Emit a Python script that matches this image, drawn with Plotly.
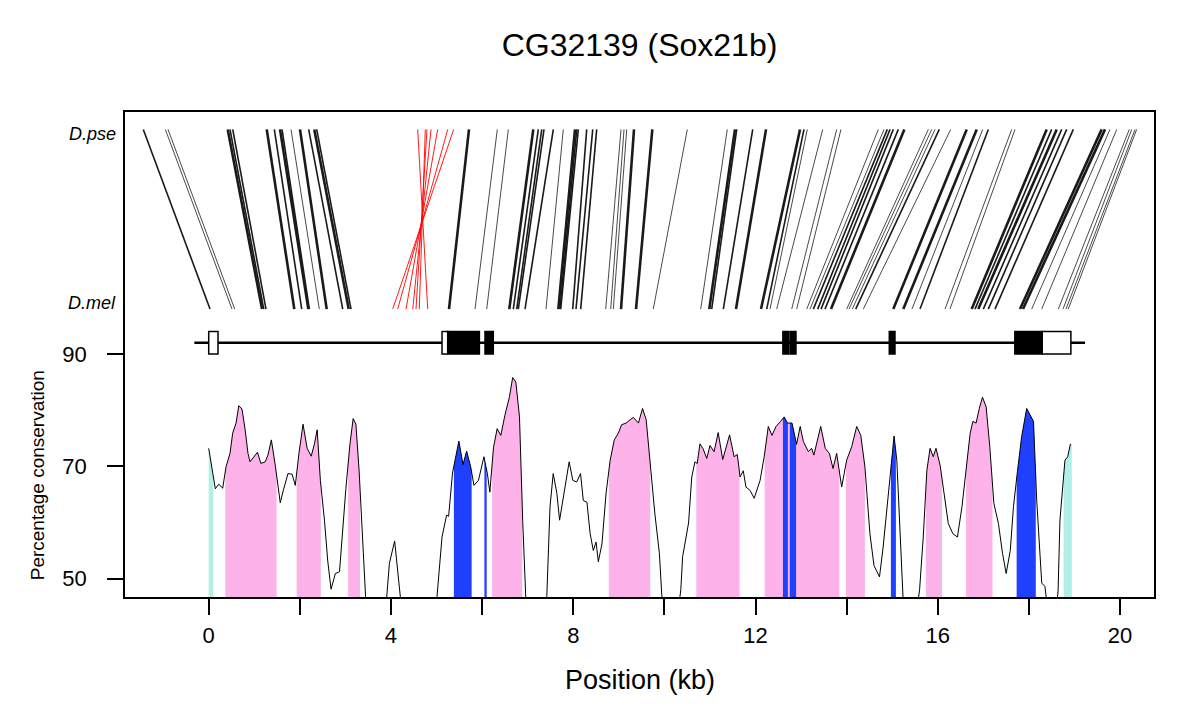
import numpy as np
import plotly.graph_objects as go

# ---------------- data ----------------
# conservation profile (position in kb, percentage conservation)
pos_kb = [0.00, 0.06, 0.145, 0.22, 0.307, 0.38, 0.467, 0.526, 0.60, 0.66, 0.73, 0.80, 0.862, 0.906, 0.98,
          1.07, 1.145, 1.24, 1.30, 1.375, 1.46, 1.57, 1.64, 1.74, 1.83, 1.90, 1.98, 2.07, 2.16, 2.25,
          2.32, 2.38, 2.45, 2.54, 2.61, 2.685, 2.78, 2.87, 3.01, 3.10, 3.17, 3.23, 3.30, 3.38, 3.46,
          3.88, 3.965, 4.08, 4.15, 4.24, 4.98, 5.00, 5.12, 5.22, 5.265, 5.35, 5.41, 5.49, 5.58, 5.66,
          5.75, 5.82, 5.92, 6.04, 6.115, 6.17, 6.25, 6.33, 6.41, 6.50, 6.60, 6.67, 6.74, 6.82, 6.89,
          6.96, 7.02, 7.36, 7.42, 7.49, 7.56, 7.64, 7.70, 7.78, 7.86, 7.91, 7.99, 8.075, 8.16, 8.22,
          8.30, 8.37, 8.44, 8.50, 8.55, 8.63, 8.72, 8.81, 8.90, 8.99, 9.06, 9.16, 9.25, 9.32, 9.43,
          9.52, 9.60, 9.68, 9.79, 9.89, 9.95, 10.0, 10.3, 10.36, 10.4, 10.53, 10.60, 10.67, 10.72, 10.78,
          10.85, 10.93, 11.00, 11.09, 11.18, 11.28, 11.35, 11.43, 11.53, 11.60, 11.66, 11.73, 11.79, 11.88, 11.97,
          12.10, 12.19, 12.28, 12.36, 12.45, 12.55, 12.63, 12.70, 12.80, 12.90, 12.98, 13.05, 13.16, 13.23, 13.28,
          13.43, 13.53, 13.62, 13.70, 13.78, 13.89, 14.00, 14.11, 14.22, 14.31, 14.40, 14.51, 14.60, 14.72, 14.80,
          14.89, 14.97, 15.04, 15.10, 15.17, 15.24, 15.30, 15.53, 15.60, 15.68, 15.76, 15.83, 15.90, 15.96, 16.05,
          16.14, 16.23, 16.33, 16.43, 16.53, 16.62, 16.71, 16.77, 16.84, 16.91, 16.98, 17.06, 17.14, 17.23, 17.33,
          17.42, 17.50, 17.59, 17.66, 17.75, 17.84, 17.95, 18.03, 18.10, 18.17, 18.28, 18.35, 18.42, 18.60, 18.64,
          18.68, 18.79, 18.85, 18.91]
pct_cons = [73.2, 69.9, 66.0, 66.8, 66.1, 69.9, 72.3, 75.9, 77.7, 80.8, 80.2, 76.5, 72.3, 70.8, 71.6,
            72.5, 70.5, 70.8, 72.0, 74.7, 70.2, 63.5, 65.8, 68.7, 68.6, 66.6, 72.3, 77.5, 73.2, 71.8,
            74.0, 76.5, 67.5, 60.4, 53.3, 48.1, 50.9, 51.2, 66.0, 74.0, 78.5, 77.5, 69.3, 55.0, 44.0,
            44.0, 52.7, 56.7, 51.5, 44.0, 44.0, 46.0, 57.4, 61.3, 61.1, 68.8, 71.2, 74.5, 70.3, 72.7,
            69.9, 66.6, 67.5, 71.7, 68.7, 65.4, 73.4, 76.7, 75.5, 79.1, 82.4, 85.8, 85.0, 78.8, 60.4,
            46.2, 44.0, 44.0, 47.0, 62.8, 68.7, 65.2, 60.4, 64.3, 68.1, 70.8, 67.5, 67.2, 68.7, 63.9,
            63.6, 58.0, 55.0, 56.5, 53.0, 56.2, 65.2, 71.1, 74.7, 75.9, 77.4, 77.7, 78.3, 78.7, 77.7,
            80.3, 78.3, 71.1, 61.6, 54.5, 46.0, 44.0, 44.0, 48.0, 53.9, 59.9, 68.1, 70.8, 70.5, 74.0,
            73.1, 71.4, 73.7, 72.6, 76.0, 71.2, 73.2, 75.6, 71.7, 72.1, 68.1, 69.2, 66.3, 65.7, 64.3,
            67.5, 71.7, 77.1, 75.5, 77.1, 78.0, 78.8, 77.7, 77.7, 73.9, 77.1, 74.4, 72.6, 73.2, 72.0,
            77.1, 73.2, 72.3, 69.6, 72.3, 66.3, 71.1, 73.5, 77.1, 75.5, 69.9, 58.0, 52.3, 50.3, 55.6,
            62.8, 69.9, 75.4, 71.1, 59.2, 46.0, 44.0, 44.0, 48.0, 57.4, 69.3, 73.2, 71.7, 73.2, 70.2,
            65.2, 59.8, 58.0, 57.4, 62.8, 69.9, 75.9, 78.0, 77.7, 80.3, 82.3, 80.6, 73.5, 63.4, 59.8,
            54.5, 50.9, 55.0, 62.8, 69.3, 75.3, 80.3, 79.1, 78.0, 64.0, 49.2, 48.6, 44.0, 44.0, 48.0,
            60.4, 71.1, 71.7, 74.0]

# conserved regions (kb)
utr_reg_start = [0.0, 18.76]
utr_reg_end = [0.10, 18.94]
cns_reg_start = [0.365, 1.93, 3.06, 6.22, 8.78, 10.70, 12.20, 12.71, 12.89, 13.985, 15.74, 16.62]
cns_reg_end = [1.49, 2.46, 3.32, 6.88, 9.69, 11.65, 12.60, 12.75, 13.84, 14.40, 16.09, 17.20]
exon_reg_start = [5.38, 6.05, 12.60, 12.75, 14.97, 17.73]
exon_reg_end = [5.77, 6.10, 12.71, 12.89, 15.08, 18.15]

# gene model (kb)
gene_start, gene_end = -0.316, 19.23
utr_start = [0.0, 5.12, 18.29]
utr_end = [0.204, 5.245, 18.92]
cds_start = [5.245, 6.063, 12.60, 12.756, 14.935, 17.69]
cds_end = [5.94, 6.245, 12.72, 12.887, 15.06, 18.29]

# D.mel / D.pse aligned blocks (kb)
mel_kb = [0.029, 0.511, 0.571, 1.170, 1.207, 1.257, 1.878, 2.041, 2.186, 2.208,
          2.427, 2.589, 2.941, 3.072, 3.123, 5.273, 5.844, 6.101, 6.596, 6.684,
          6.759, 6.794, 6.941, 7.402, 7.672, 7.709, 7.724, 7.988, 8.060, 8.163,
          8.712, 8.822, 8.879, 9.048, 9.377, 9.756, 10.797, 10.985, 11.038, 11.293,
          11.571, 12.120, 12.245, 12.318, 12.464, 12.794, 12.903, 13.123, 13.195, 13.268,
          13.364, 13.437, 13.524, 13.656, 14.000, 14.051, 14.123, 14.198, 14.365, 15.023,
          15.243, 15.433, 15.609, 16.158, 16.267, 16.744, 16.816, 16.888, 16.998, 17.108,
          17.255, 17.804, 17.869, 18.060, 18.280, 18.644, 18.747, 18.813, 18.863]
pse_kb = [-1.435, -0.952, -0.893, 0.417, 0.467, 0.527, 1.273, 1.440, 1.565, 1.609,
          1.806, 2.003, 2.194, 2.317, 2.370, 5.712, 6.333, 6.575, 7.123, 7.233,
          7.308, 7.358, 7.562, 7.781, 8.038, 8.076, 8.111, 8.295, 8.427, 8.514,
          9.048, 9.114, 9.173, 9.333, 9.735, 10.503, 11.380, 11.549, 11.587, 11.938,
          12.230, 12.976, 13.063, 13.136, 13.474, 13.781, 13.875, 14.694, 14.819, 14.891,
          14.951, 15.023, 15.133, 15.265, 15.791, 15.866, 15.938, 16.032, 16.283, 16.634,
          16.853, 16.985, 17.108, 17.621, 17.694, 18.389, 18.499, 18.609, 18.718, 18.828,
          18.973, 19.596, 19.669, 19.778, 19.926, 20.202, 20.255, 20.328, 20.364]
align_weight = [2, 1, 1, 3, 2, 2, 3, 2, 3, 2,
                1, 3, 2, 3, 2, 3, 1, 1, 3, 2,
                2, 2, 2, 1, 3, 2, 2, 2, 2, 2,
                1, 1, 1, 3, 3, 1, 1, 3, 2, 2,
                3, 3, 2, 1, 1, 1, 1, 1, 1, 2,
                2, 2, 2, 3, 1, 1, 1, 2, 1, 3,
                3, 1, 2, 1, 1, 3, 2, 3, 2, 2,
                2, 3, 3, 1, 1, 1, 1, 1, 1]
# inverted blocks
inv_mel_kb = [4.038, 4.147, 4.330, 4.477, 4.549, 4.621, 4.806]
inv_pse_kb = [5.376, 5.245, 5.025, 4.878, 4.790, 4.753, 4.586]

x_ticks = [0, 2, 4, 6, 8, 10, 12, 14, 16, 18, 20]
x_tick_labels = ["0", "", "4", "", "8", "", "12", "", "16", "", "20"]
y_ticks = [50, 70, 90]
y_tick_labels = ["50", "70", "90"]

# ---------------- layout constants ----------------
MEL_Y, PSE_Y = 98.0, 130.0
GENE_Y, BOX_H = 92.0, 2.0
Y_MIN, Y_MAX = 46.72, 133.1
X_MIN, X_MAX = -1.837, 20.744
BOTTOM = 30.0
FONT = "Liberation Sans, Arial, Helvetica, sans-serif"

fig = go.Figure()

pos = np.array(pos_kb)
pct = np.array(pct_cons)


def add_regions(starts, ends, color):
    for a, b in zip(starts, ends):
        inside = (pos > a) & (pos < b)
        xs = [a] + list(pos[inside]) + [b]
        ys = list(np.interp(xs, pos, pct))
        xs = xs + [b, a]
        ys = ys + [BOTTOM, BOTTOM]
        fig.add_trace(go.Scatter(x=xs, y=ys, mode="lines", fill="toself",
                                 fillcolor=color, line=dict(width=0),
                                 hoverinfo="skip", showlegend=False))


add_regions(cns_reg_start, cns_reg_end, "#fdb2ea")
add_regions(utr_reg_start, utr_reg_end, "#b0f0e6")
add_regions(exon_reg_start, exon_reg_end, "#2040ff")

# conservation curve
fig.add_trace(go.Scatter(x=pos_kb, y=pct_cons, mode="lines",
                         line=dict(color="black", width=1), showlegend=False,
                         hoverinfo="skip"))

# alignment lines
width_map = {1: 0.8, 2: 1.6, 3: 2.6}
for w in (1, 2, 3):
    xs, ys = [], []
    for m, p, aw in zip(mel_kb, pse_kb, align_weight):
        if aw == w:
            xs += [m, p, None]
            ys += [MEL_Y, PSE_Y, None]
    fig.add_trace(go.Scatter(x=xs, y=ys, mode="lines",
                             line=dict(color="#1a1a1a", width=width_map[w]),
                             showlegend=False, hoverinfo="skip"))
xs, ys = [], []
for m, p in zip(inv_mel_kb, inv_pse_kb):
    xs += [m, p, None]
    ys += [MEL_Y, PSE_Y, None]
fig.add_trace(go.Scatter(x=xs, y=ys, mode="lines",
                         line=dict(color="#ff0000", width=0.9),
                         showlegend=False, hoverinfo="skip"))

# gene model
fig.add_trace(go.Scatter(x=[gene_start, gene_end], y=[GENE_Y, GENE_Y], mode="lines",
                         line=dict(color="black", width=2.5), showlegend=False,
                         hoverinfo="skip"))
for a, b in zip(utr_start, utr_end):
    fig.add_shape(type="rect", x0=a, x1=b, y0=GENE_Y - BOX_H, y1=GENE_Y + BOX_H,
                  xref="x", yref="y", fillcolor="white",
                  line=dict(color="black", width=1.5), layer="above")
for a, b in zip(cds_start, cds_end):
    fig.add_shape(type="rect", x0=a, x1=b, y0=GENE_Y - BOX_H, y1=GENE_Y + BOX_H,
                  xref="x", yref="y", fillcolor="black",
                  line=dict(color="black", width=1.5), layer="above")

# labels
fig.add_annotation(text="<i>D.pse</i>", x=-0.007, xref="paper", y=129.1, yref="y",
                   xanchor="right", yanchor="middle", showarrow=False,
                   font=dict(family=FONT, size=18, color="black"))
fig.add_annotation(text="<i>D.mel</i>", x=-0.007, xref="paper", y=99.0, yref="y",
                   xanchor="right", yanchor="middle", showarrow=False,
                   font=dict(family=FONT, size=18, color="black"))
fig.add_annotation(text="Percentage conservation", x=-0.0855, xref="paper", y=68.4,
                   yref="y", textangle=-90, xanchor="center", yanchor="middle",
                   showarrow=False, font=dict(family=FONT, size=19, color="black"))
fig.add_annotation(text="Position (kb)", x=0.5, xref="paper", y=-0.171, yref="paper",
                   xanchor="center", yanchor="middle", showarrow=False,
                   font=dict(family=FONT, size=27, color="black"))

fig.update_layout(
    width=1200, height=724,
    margin=dict(l=117, r=54, t=104, b=135),
    paper_bgcolor="white", plot_bgcolor="white",
    title=dict(text="CG32139 (Sox21b)", x=0.5, xref="paper", y=1 - 37 / 724,
               yref="container", xanchor="center", yanchor="middle",
               font=dict(family=FONT, size=32, color="black")),
    xaxis=dict(range=[X_MIN, X_MAX], tickvals=x_ticks, ticktext=x_tick_labels,
               showgrid=False, zeroline=False, showline=True, mirror=True,
               linecolor="black", linewidth=1.5, ticks="outside", ticklen=16,
               tickwidth=1.5, tickcolor="black", ticklabelstandoff=2,
               tickfont=dict(family=FONT, size=22, color="black")),
    yaxis=dict(range=[Y_MIN, Y_MAX], tickvals=y_ticks, ticktext=y_tick_labels,
               showgrid=False, zeroline=False, showline=True, mirror=True,
               linecolor="black", linewidth=1.5, ticks="outside", ticklen=16,
               tickwidth=1.5, tickcolor="black", ticklabelstandoff=16,
               tickfont=dict(family=FONT, size=22, color="black")),
)

fig.write_html("out.html")
